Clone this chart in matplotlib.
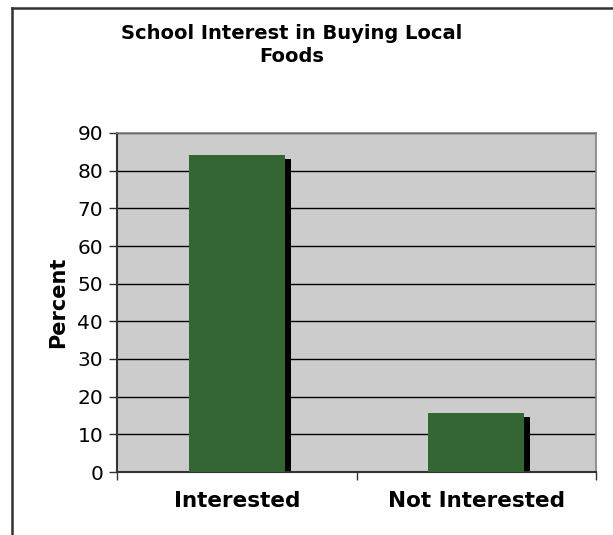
import matplotlib
matplotlib.use("Agg")
import matplotlib.pyplot as plt
import matplotlib.transforms as mtransforms
from matplotlib.lines import Line2D

categories = ["Interested", "Not Interested"]
values = [84.2, 15.6]
yticks = [0, 10, 20, 30, 40, 50, 60, 70, 80, 90]

W, H = 613, 535
fig = plt.figure(figsize=(W/100, H/100), dpi=100)
fig.patch.set_facecolor("white")

ax = fig.add_axes([117/W, 1-472/H, (596-117)/W, (472-133)/H])
ax.set_facecolor("#cccccc")

x = list(range(len(categories)))
shadow_tr = ax.transData + mtransforms.ScaledTranslation(6/100, -4/100, fig.dpi_scale_trans)
ax.bar(x, values, width=0.4, color="black", zorder=2, transform=shadow_tr)
ax.bar(x, values, width=0.4, color="#336633", zorder=3)

ax.set_xlim(-0.5, 1.5)
ax.set_ylim(0, 90)
ax.set_yticks(yticks)
ax.yaxis.grid(True, color="black", linewidth=1)
ax.set_axisbelow(True)

ax.set_xticks([-0.5, 0.5, 1.5])
ax.set_xticklabels([])
ax.set_xticks(x, minor=True)
ax.set_xticklabels(categories, minor=True, fontsize=15.5, fontweight="bold")
ax.tick_params(axis="x", which="minor", length=0, pad=14)
ax.tick_params(axis="x", which="major", length=6, width=1, color="#333333")
ax.tick_params(axis="y", length=6, width=1, labelsize=14.5, pad=4, color="#333333")

for s in ["top", "right"]:
    ax.spines[s].set_color("#808080")
    ax.spines[s].set_linewidth(1.2)
ax.spines["left"].set_color("#333333")
ax.spines["left"].set_linewidth(1.5)
ax.spines["bottom"].set_color("#333333")
ax.spines["bottom"].set_linewidth(1.5)

ax.set_ylabel("Percent", fontsize=15, fontweight="bold", labelpad=7)

fig.text(292/W, 1-45/H, "School Interest in Buying Local\nFoods", ha="center", va="center",
         fontsize=14, fontweight="bold", linespacing=1.25)

# chart area border (left and top visible)
fig.add_artist(Line2D([12/W, 12/W], [0, 1-8/H], color="#333333", linewidth=1.8, transform=fig.transFigure))
fig.add_artist(Line2D([12/W, 1], [1-8/H, 1-8/H], color="#333333", linewidth=1.8, transform=fig.transFigure))

fig.savefig("out.png", dpi=100)
